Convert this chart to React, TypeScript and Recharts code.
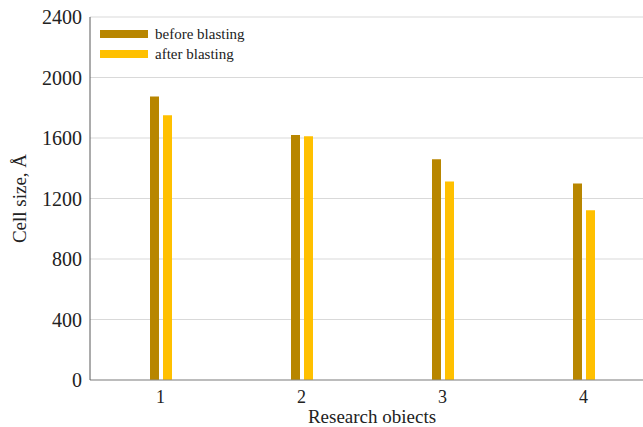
import { BarChart, Bar, XAxis, YAxis, CartesianGrid, Legend } from 'recharts'

// research objects and cell sizes (Å) before / after blasting
const objects = ['1', '2', '3', '4']
const beforeBlasting = [1875, 1620, 1460, 1300]
const afterBlasting = [1750, 1612, 1312, 1122]
const yTicks = [0, 400, 800, 1200, 1600, 2000, 2400]
const seriesOrder = ['before blasting', 'after blasting']

const data = objects.map((name, i) => ({
  name,
  before: beforeBlasting[i],
  after: afterBlasting[i],
}))

const FONT = '"Liberation Serif", "Times New Roman", serif'

// eslint-disable-next-line @typescript-eslint/no-explicit-any
function LegendBox({ payload }: any) {
  return (
    <div style={{ fontFamily: FONT, fontSize: 15, color: '#222' }}>
      {payload?.map((p: { value: string; color: string }) => (
        <div key={p.value} style={{ display: 'flex', alignItems: 'center', height: 20 }}>
          <span style={{ display: 'inline-block', width: 48, height: 8, background: p.color, marginRight: 7 }} />
          {p.value}
        </div>
      ))}
    </div>
  )
}

export default function App() {
  return (
    <div style={{ position: 'fixed', left: 0, top: 0, width: 643, height: 427, overflow: 'hidden', background: '#fff' }}>
      <BarChart
        width={660}
        height={427}
        data={data}
        margin={{ top: 17, right: 6, left: 0, bottom: 0 }}
        barSize={9}
        barGap={4}
      >
        <CartesianGrid vertical={false} stroke="#d9d9d9" />
        <XAxis
          dataKey="name"
          height={47}
          stroke="#8c8c8c"
          tickLine={false}
          tick={{ fill: '#222', fontSize: 18, fontFamily: FONT }}
          tickMargin={4}
          label={{ value: 'Research obiects', position: 'insideBottom', offset: 4, fill: '#222', fontSize: 19, fontFamily: FONT }}
        />
        <YAxis
          width={90}
          domain={[0, 2400]}
          ticks={yTicks}
          stroke="#595959"
          tickLine={false}
          tick={{ fill: '#222', fontSize: 20, fontFamily: FONT }}
          label={{ value: 'Cell size, Å', angle: -90, position: 'center', dx: -26, fill: '#222', fontSize: 19, fontFamily: FONT }}
        />
        {/* floating legend: vertical + center/middle keeps it out of the plot offset */}
        <Legend
          layout="vertical"
          verticalAlign="middle"
          align="center"
          itemSorter={(item: { value: string }) => seriesOrder.indexOf(item.value)}
          content={<LegendBox />}
          wrapperStyle={{ left: 100, top: 24, width: 200 }}
        />
        <Bar dataKey="before" name="before blasting" fill="#b88600" isAnimationActive={false} />
        <Bar dataKey="after" name="after blasting" fill="#ffc000" isAnimationActive={false} />
      </BarChart>
    </div>
  )
}
